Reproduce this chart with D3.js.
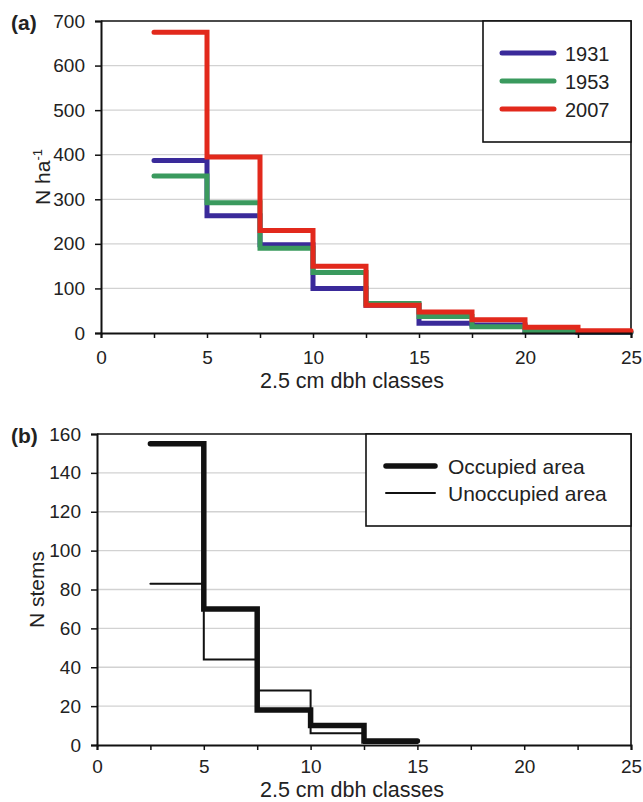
<!DOCTYPE html>
<html>
<head>
<meta charset="utf-8">
<script src="https://cdn.jsdelivr.net/npm/d3@7"></script>
<style>
  body { margin: 0; background: #fff; }
  text { font-family: "Liberation Sans", Arial, sans-serif; fill: #222; }
</style>
</head>
<body>
<div id="chart"></div>
<script>
// class starts (2.5 cm dbh classes)
const classesA = [2.5, 5, 7.5, 10, 12.5, 15, 17.5, 20, 22.5];
const n1931 = [387, 263, 198, 100, 62, 22, 18, 3, 1];
const n1953 = [352, 292, 190, 136, 66, 37, 14, 4, 2];
const n2007 = [675, 395, 230, 150, 62, 47, 30, 13, 5];
const yearNames = ["1931", "1953", "2007"];

const classesB = [2.5, 5, 7.5, 10, 12.5];
const occupied = [155, 70, 18, 10, 2];
const unoccupied = [83, 44, 28, 6, 1];
const areaNames = ["Occupied area", "Unoccupied area"];

const xTicks = [0, 2.5, 5, 7.5, 10, 12.5, 15, 17.5, 20, 22.5, 25];
const yTicksA = [0, 100, 200, 300, 400, 500, 600, 700];
const yTicksB = [0, 20, 40, 60, 80, 100, 120, 140, 160];

const width = 643, height = 802;
const svg = d3.select("#chart").append("svg")
    .attr("width", width)
    .attr("height", height);

// turn class values into step points (last class gets its end point)
function steps(xs, vs) {
    var pts = xs.map(function(x, i) { return [x, vs[i]]; });
    pts.push([xs[xs.length - 1] + 2.5, vs[vs.length - 1]]);
    return pts;
}

function drawPanel(p) {
    var x = d3.scaleLinear().domain([0, 25]).range([p.left, p.right]);
    var y = d3.scaleLinear().domain([0, p.ymax]).range([p.bottom, p.top]);

    // gridlines
    svg.append("g").selectAll("line")
        .data(p.yTicks.filter(function(d) { return d > 0 && d < p.ymax; }))
        .join("line")
        .attr("x1", p.left).attr("x2", p.right)
        .attr("y1", function(d) { return y(d); })
        .attr("y2", function(d) { return y(d); })
        .attr("stroke", "#d2d2d2")
        .attr("stroke-width", 1.3);

    // frame top + right
    svg.append("path")
        .attr("d", "M" + p.left + "," + p.top + "H" + p.right + "V" + p.bottom)
        .attr("fill", "none")
        .attr("stroke", "#111")
        .attr("stroke-width", 1.6);

    // series
    var line = d3.line()
        .x(function(d) { return x(d[0]); })
        .y(function(d) { return y(d[1]); })
        .curve(d3.curveStepAfter);

    p.series.forEach(function(s) {
        svg.append("path")
            .datum(steps(p.classes, s.values))
            .attr("fill", "none")
            .attr("stroke", s.color)
            .attr("stroke-width", s.width)
            .attr("stroke-linecap", "round")
            .attr("d", line);
    });

    // axes
    var xAxis = svg.append("g")
        .attr("transform", "translate(0," + p.bottom + ")")
        .call(d3.axisBottom(x).tickValues(xTicks)
            .tickSize(5).tickPadding(p.xpad)
            .tickFormat(function(d) { return d % 5 === 0 ? d : ""; }));
    var yAxis = svg.append("g")
        .attr("transform", "translate(" + p.left + ",0)")
        .call(d3.axisLeft(y).tickValues(p.yTicks).tickSize(6).tickPadding(10));

    [xAxis, yAxis].forEach(function(a) {
        a.select(".domain").attr("stroke", "#111").attr("stroke-width", 2);
        a.selectAll(".tick line").attr("stroke", "#111").attr("stroke-width", 1.5);
        a.selectAll(".tick text")
            .attr("fill", "#222")
            .style("font-size", "19px")
            .style("font-family", "Liberation Sans, Arial, sans-serif");
    });

    // panel letter
    svg.append("text")
        .attr("x", 11).attr("y", p.top + 9)
        .style("font-size", "21px").style("font-weight", "bold")
        .text(p.letter);

    // x title
    svg.append("text")
        .attr("x", 352).attr("y", p.bottom + p.xtitleDy)
        .attr("text-anchor", "middle")
        .style("font-size", "21.5px")
        .text("2.5 cm dbh classes");

    // y title
    var yt = svg.append("text")
        .attr("transform", "translate(" + p.ytitleX + "," + (p.top + p.bottom) / 2 + ") rotate(-90)")
        .attr("text-anchor", "middle")
        .style("font-size", "21px");
    yt.append("tspan").text(p.ytitle);
    if (p.ysup) {
        yt.append("tspan").attr("dy", -8).style("font-size", "13px").text(p.ysup);
    }

    // legend
    var lg = p.legend;
    svg.append("rect")
        .attr("x", lg.x0).attr("y", p.top)
        .attr("width", p.right - lg.x0).attr("height", lg.y1 - p.top)
        .attr("fill", "#fff").attr("stroke", "#111").attr("stroke-width", 1.6);
    p.series.forEach(function(s, i) {
        var ly = lg.rows[i];
        svg.append("line")
            .attr("x1", lg.lx1).attr("x2", lg.lx2)
            .attr("y1", ly).attr("y2", ly)
            .attr("stroke", s.color).attr("stroke-width", s.width)
            .attr("stroke-linecap", "round");
        svg.append("text")
            .attr("x", lg.tx).attr("y", ly + 7.5)
            .style("font-size", lg.fs + "px")
            .text(s.name);
    });
}

drawPanel({
    letter: "(a)",
    left: 101, right: 631, top: 21, bottom: 333, ymax: 700,
    yTicks: yTicksA, classes: classesA,
    ytitle: "N ha", ysup: "-1", ytitleX: 50, xtitleDy: 55, xpad: 13,
    series: [
        {name: yearNames[0], values: n1931, color: "#3a2a9a", width: 5},
        {name: yearNames[1], values: n1953, color: "#3a9a5e", width: 5},
        {name: yearNames[2], values: n2007, color: "#e2291c", width: 5}
    ],
    legend: {x0: 483, y1: 142, lx1: 502, lx2: 554, tx: 565, fs: 20, rows: [53, 81, 109]}
});

drawPanel({
    letter: "(b)",
    left: 97, right: 631, top: 434, bottom: 745, ymax: 160,
    yTicks: yTicksB, classes: classesB,
    ytitle: "N stems", ytitleX: 44, xtitleDy: 52, xpad: 9.5,
    series: [
        {name: areaNames[1], values: unoccupied, color: "#111", width: 2},
        {name: areaNames[0], values: occupied, color: "#111", width: 5.5}
    ].reverse(),
    legend: {x0: 366, y1: 526, lx1: 386, lx2: 435, tx: 448, fs: 21, rows: [466, 493]}
});
</script>
</body>
</html>
